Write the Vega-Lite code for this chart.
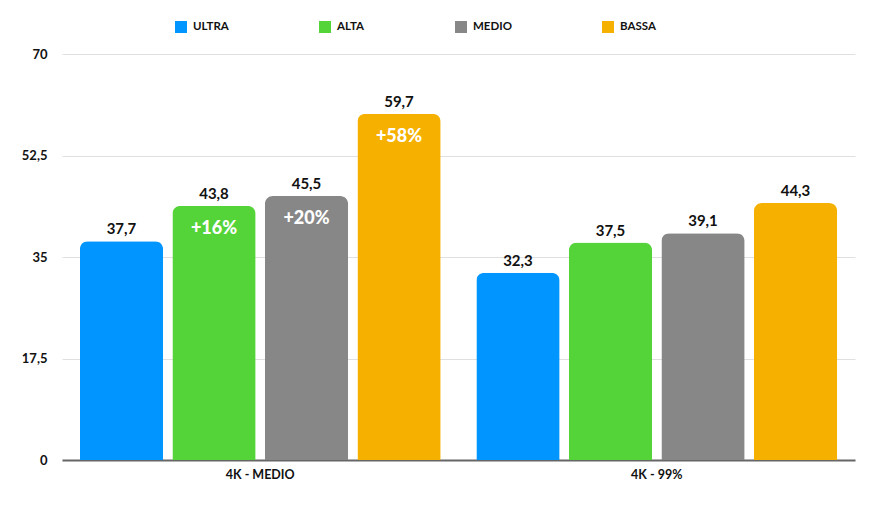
{
  "$schema": "https://vega.github.io/schema/vega-lite/v6.json",
  "autosize": "none",
  "width": 793,
  "height": 406,
  "padding": {"left": 62, "top": 54, "right": 41, "bottom": 62},
  "background": "white",
  "config": {
    "locale": {"number": {"decimal": ",", "thousands": ".", "grouping": [3], "currency": ["", " €"]}},
    "view": {"stroke": null},
    "font": "Lato",
    "axis": {"labelFont": "Lato", "labelFontWeight": "bold", "labelColor": "#111", "labelFontSize": 13}
  },
  "data": {
    "values": [
      {"group": "4K - MEDIO", "level": "ULTRA", "value": 37.7, "pct": ""},
      {"group": "4K - MEDIO", "level": "ALTA", "value": 43.8, "pct": "+16%"},
      {"group": "4K - MEDIO", "level": "MEDIO", "value": 45.5, "pct": "+20%"},
      {"group": "4K - MEDIO", "level": "BASSA", "value": 59.7, "pct": "+58%"},
      {"group": "4K - 99%", "level": "ULTRA", "value": 32.3, "pct": ""},
      {"group": "4K - 99%", "level": "ALTA", "value": 37.5, "pct": ""},
      {"group": "4K - 99%", "level": "MEDIO", "value": 39.1, "pct": ""},
      {"group": "4K - 99%", "level": "BASSA", "value": 44.3, "pct": ""}
    ]
  },
  "encoding": {
    "x": {
      "field": "group", "type": "nominal", "sort": ["4K - MEDIO", "4K - 99%"],
      "scale": {"paddingInner": 0.09, "paddingOuter": 0.045},
      "axis": {"title": null, "labelAngle": 0, "ticks": false, "domainColor": "#666", "domainWidth": 2, "labelPadding": 8, "labelFontSize": 12.5}
    },
    "xOffset": {
      "field": "level", "type": "nominal", "sort": ["ULTRA", "ALTA", "MEDIO", "BASSA"],
      "scale": {"paddingInner": 0.1, "paddingOuter": 0}
    },
    "y": {
      "field": "value", "type": "quantitative",
      "scale": {"domain": [0, 70], "nice": false},
      "axis": {"title": null, "values": [0, 17.5, 35, 52.5, 70], "format": ".1~f", "domain": false, "ticks": false, "gridColor": "#e0e0e0", "labelPadding": 15}
    }
  },
  "layer": [
    {
      "mark": {"type": "bar", "cornerRadiusTopLeft": 8, "cornerRadiusTopRight": 8},
      "encoding": {
        "color": {
          "field": "level", "type": "nominal",
          "sort": ["ULTRA", "ALTA", "MEDIO", "BASSA"],
          "scale": {"domain": ["ULTRA", "ALTA", "MEDIO", "BASSA"], "range": ["#0095FF", "#55D43A", "#878787", "#F6B100"]},
          "legend": {
            "title": null, "orient": "none", "direction": "horizontal",
            "legendX": 113, "legendY": -33, "padding": 0,
            "symbolType": "square", "symbolSize": 144, "symbolStrokeWidth": 0, "symbolOpacity": 1,
            "labelFont": "Lato", "labelFontWeight": "bold", "labelFontSize": 11.5, "labelColor": "#111",
            "labelOffset": 6, "columnPadding": 90, "gridAlign": "none"
          }
        }
      }
    },
    {
      "mark": {"type": "text", "baseline": "bottom", "dy": -4, "fontSize": 15, "fontWeight": "bold", "color": "#111", "font": "Lato"},
      "encoding": {"text": {"field": "value", "type": "quantitative", "format": ".1f"}}
    },
    {
      "mark": {"type": "text", "baseline": "middle", "dy": 23, "fontSize": 18, "fontWeight": 900, "color": "white", "font": "Lato"},
      "encoding": {"text": {"field": "pct", "type": "nominal"}}
    }
  ]
}
